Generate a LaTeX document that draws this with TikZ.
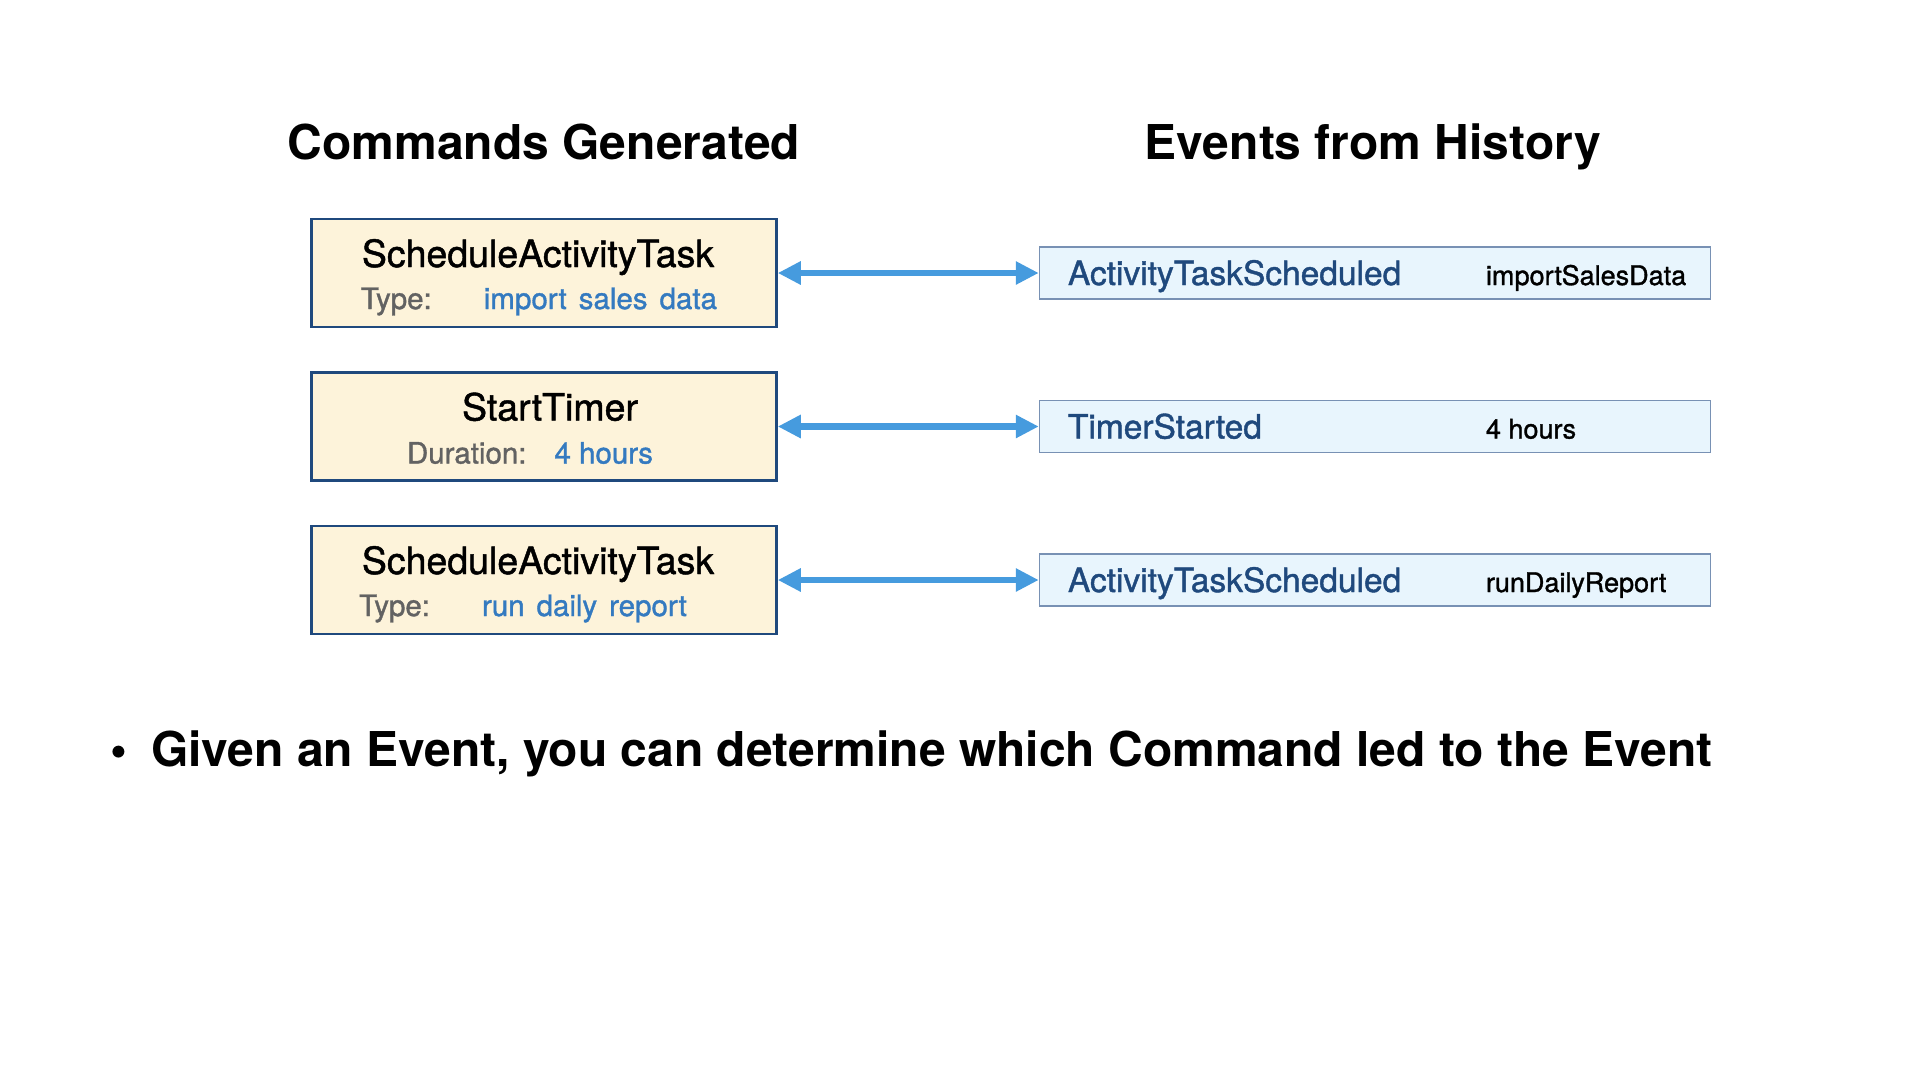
\documentclass[tikz,border=0pt]{standalone}
\usepackage{fontspec}
\setmainfont{TeX Gyre Heros}
\newfontfamily\medfont{TeX Gyre Heros}[FakeBold=1.2]
\usetikzlibrary{arrows.meta, positioning}
\definecolor{cmdblue}{RGB}{31, 73, 125}
\definecolor{cmdfill}{RGB}{253, 243, 218}
\definecolor{evline}{RGB}{120, 145, 180}
\definecolor{evfill}{RGB}{232, 245, 253}
\definecolor{evtext}{RGB}{31, 73, 125}
\definecolor{valblue}{RGB}{52, 122, 192}
\definecolor{keygray}{RGB}{98, 98, 98}
\definecolor{linkblue}{RGB}{70, 155, 222}
\newcommand{\cmdfield}[3]{{\color{keygray}#1}\hspace{#3}{\color{valblue}#2}}

\begin{document}
\begin{tikzpicture}[
    x=1pt, y=-1pt,
    node distance=43pt,
    heading/.style={font=\fontsize{48}{58}\selectfont\bfseries, inner sep=0pt, anchor=base},
    cmdbox/.style={rectangle, draw=cmdblue, line width=2.5pt, fill=cmdfill,
                minimum width=465pt, minimum height=108pt, inner sep=0pt},
    cmdname/.style={font=\medfont\fontsize{37.5}{42}\selectfont, inner sep=0pt, anchor=base},
    cmdline/.style={font=\medfont\fontsize{29.5}{34}\selectfont, inner sep=0pt, anchor=base},
    evbox/.style={rectangle, draw=evline, line width=1.2pt, fill=evfill,
                minimum width=671pt, minimum height=52pt, inner sep=0pt},
    evname/.style={font=\medfont\fontsize{33.5}{40}\selectfont, color=evtext, inner sep=0pt, anchor=base west},
    evarg/.style={font=\medfont\fontsize{27}{32}\selectfont, inner sep=0pt, anchor=base west},
    arrow/.style={{Triangle[length=23pt, width=22pt]}-{Triangle[length=23pt, width=22pt]},
                line width=6.5pt, color=linkblue},
]
    \useasboundingbox (0,0) rectangle (1920,1080);

    \node[heading] (cmdhead) at (544,159) {Commands Generated};
    \node[heading] (evhead) at (1373,159) {Events from History};

    % commands
    \node[cmdbox] (cmd1) at (544,273) {};
    \node[cmdbox, below=of cmd1] (cmd2) {};
    \node[cmdbox, below=of cmd2] (cmd3) {};
    \node[cmdname] (cmd1name) at ([xshift=-6pt, yshift=6pt]cmd1.center) {ScheduleActivityTask};
    \node[cmdline] (cmd1type) at ([xshift=-5pt, yshift=-36pt]cmd1.center) {\cmdfield{Type:}{import\hspace{12pt}sales\hspace{12pt}data}{52pt}};
    \node[cmdname] (cmd2name) at ([xshift=6pt, yshift=6pt]cmd2.center) {StartTimer};
    \node[cmdline] (cmd2dur) at ([xshift=-14pt, yshift=-37pt]cmd2.center) {\cmdfield{Duration:}{4 hours}{28pt}};
    \node[cmdname] (cmd3name) at ([xshift=-6pt, yshift=6pt]cmd3.center) {ScheduleActivityTask};
    \node[cmdline] (cmd3type) at ([xshift=-21pt, yshift=-36pt]cmd3.center) {\cmdfield{Type:}{run\hspace{12pt}daily\hspace{12pt}report}{52pt}};

    % events
    \node[evbox, right=261pt of cmd1] (ev1) {};
    \node[evbox, right=261pt of cmd2] (ev2) {};
    \node[evbox, right=261pt of cmd3] (ev3) {};
    \node[evname] (ev1name) at ([xshift=29pt, yshift=-12pt]ev1.west) {ActivityTaskScheduled};
    \node[evarg] (ev1arg) at ([xshift=447pt, yshift=-12pt]ev1.west) {importSalesData};
    \node[evname] (ev2name) at ([xshift=29pt, yshift=-12pt]ev2.west) {TimerStarted};
    \node[evarg] (ev2arg) at ([xshift=447pt, yshift=-12pt]ev2.west) {4 hours};
    \node[evname] (ev3name) at ([xshift=29pt, yshift=-12pt]ev3.west) {ActivityTaskScheduled};
    \node[evarg] (ev3arg) at ([xshift=447pt, yshift=-12pt]ev3.west) {runDailyReport};

    \draw[arrow] (cmd1) -- (ev1);
    \draw[arrow] (cmd2) -- (ev2);
    \draw[arrow] (cmd3) -- (ev3);

    \node[font=\fontsize{48}{58}\selectfont\bfseries, inner sep=0pt, anchor=base west] (note)
        at (110,766) {•\hspace{24pt}Given an Event, you can determine which Command led to the Event};
\end{tikzpicture}
\end{document}
